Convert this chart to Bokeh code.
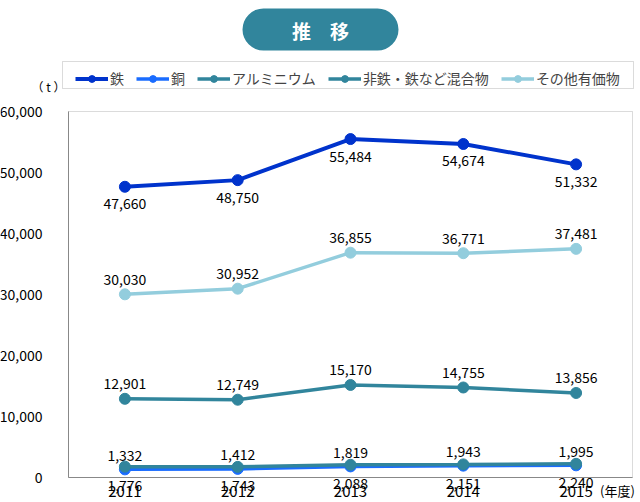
from bokeh.plotting import figure
from bokeh.models import (Range1d, FixedTicker, NumeralTickFormatter, LinearAxis,
                          Legend, LegendItem, Label, BoxAnnotation, ColumnDataSource)
from bokeh.core.properties import value
from bokeh.embed import file_html
from bokeh.resources import INLINE

years = [2011, 2012, 2013, 2014, 2015]
iron = [47660, 48750, 55484, 54674, 51332]
copper = [1332, 1412, 1819, 1943, 1995]
aluminium = [1776, 1743, 2088, 2151, 2240]
mixed = [12901, 12749, 15170, 14755, 13856]
others = [30030, 30952, 36855, 36771, 37481]
y_ticks = [0, 10000, 20000, 30000, 40000, 50000, 60000]

series_names = ["鉄", "銅", "アルミニウム", "非鉄・鉄など混合物", "その他有価物"]
series_values = [iron, copper, aluminium, mixed, others]
colors = ["#0033cc", "#1a6cff", "#31859c", "#31859c", "#93cddd"]
widths = [4, 3.5, 3.5, 3.5, 3.5]
label_offsets = [17, -14, 19, -15, -15]

FONT = "Noto Sans CJK JP"
W, H = 640, 502
# plot box in page pixels: left 68, right 632, top 111, bottom 477
px_per_year = (632 - 68) / 5.0
x0 = 2010.5 - 68 / px_per_year
x1 = x0 + W / px_per_year
units_per_px = 60000 / (477 - 111)
y0 = -(H - 477) * units_per_px
y1 = 60000 + 111 * units_per_px

p = figure(width=W, height=H, x_range=Range1d(x0, x1), y_range=Range1d(y0, y1),
           output_backend="svg", toolbar_location=None, x_axis_location=None,
           y_axis_location=None, min_border=0)
p.background_fill_color = "white"
p.border_fill_color = "white"
p.outline_line_color = None
p.xgrid.visible = False
p.ygrid.visible = False

yaxis = LinearAxis(fixed_location=2010.5, bounds=(0, 60000),
                   ticker=FixedTicker(ticks=y_ticks),
                   formatter=NumeralTickFormatter(format="0,0"),
                   major_tick_line_color=None, minor_tick_line_color=None,
                   axis_line_color="#888888", major_label_standoff=20,
                   major_label_text_font=FONT, major_label_text_font_size="14px",
                   major_label_text_color="black")
p.add_layout(yaxis, "left")

xaxis = LinearAxis(fixed_location=0, bounds=(2010.5, 2015.5),
                   ticker=FixedTicker(ticks=years),
                   major_tick_line_color=None, minor_tick_line_color=None,
                   axis_line_color="#888888", major_label_standoff=2,
                   major_label_text_font=FONT, major_label_text_font_size="15px",
                   major_label_text_color="black")
p.add_layout(xaxis, "below")

# plot-area frame (top and right edges)
frame_box = BoxAnnotation(left=2010.5, right=2015.5, bottom=0, top=60000,
                          fill_alpha=0, line_color="#888888", line_width=1)
p.add_layout(frame_box)

items = []
for name, vals, col, lw in zip(series_names, series_values, colors, widths):
    src = ColumnDataSource(dict(x=years, y=vals))
    r1 = p.line("x", "y", source=src, line_color=col, line_width=lw)
    r2 = p.scatter("x", "y", source=src, size=11, fill_color=col, line_color=col)
    items.append(LegendItem(label=name, renderers=[r1, r2]))

for vals, off in zip(series_values, label_offsets):
    src = ColumnDataSource(dict(x=years, y=vals, t=[f"{v:,}" for v in vals]))
    p.text("x", "y", text="t", source=src, text_align="center", text_baseline="middle",
           y_offset=off, text_font=value(FONT), text_font_size="14px", text_color="black")

# legend frame box
legend_box = BoxAnnotation(left=62, right=633, top=H - 61, bottom=H - 88,
                           left_units="screen", right_units="screen",
                           top_units="screen", bottom_units="screen",
                           fill_color="white", fill_alpha=1,
                           line_color="#888888", line_width=1)
p.add_layout(legend_box)

legend = Legend(items=items, location=(75, H - 88), orientation="horizontal",
                padding=5, spacing=12, margin=0, glyph_width=33, glyph_height=17,
                label_height=17, label_width=0, label_standoff=2,
                label_text_font=FONT, label_text_font_size="14px",
                border_line_color=None, background_fill_alpha=0)
p.add_layout(legend, "center")

pill = BoxAnnotation(left=242, right=398, top=H - 8, bottom=H - 50,
                     left_units="screen", right_units="screen",
                     top_units="screen", bottom_units="screen",
                     fill_color="#31859c", fill_alpha=1, line_color=None,
                     border_radius=21)
p.add_layout(pill)

p.add_layout(Label(x=320, y=H - 30, x_units="screen", y_units="screen", text="推　移",
                   text_align="center", text_baseline="middle", text_color="white",
                   text_font=FONT, text_font_size="19px", text_font_style="bold"))
p.add_layout(Label(x=48, y=H - 86, x_units="screen", y_units="screen", text="（ t ）",
                   text_align="center", text_baseline="middle", text_color="black",
                   text_font=FONT, text_font_size="12px"))
p.add_layout(Label(x=617, y=H - 490, x_units="screen", y_units="screen", text="(年度)",
                   text_align="center", text_baseline="middle", text_color="black",
                   text_font=FONT, text_font_size="13px"))

open("out.html", "w").write(file_html(p, INLINE))
